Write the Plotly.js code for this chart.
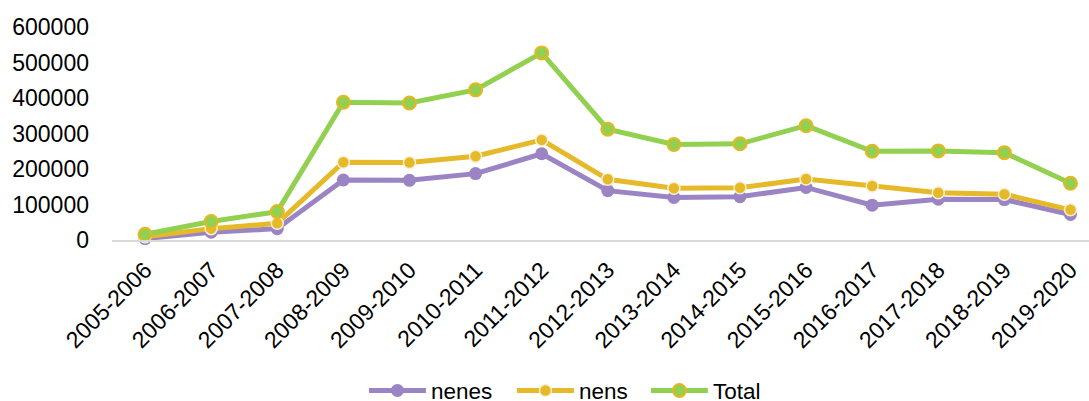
<!DOCTYPE html>
<html>
<head>
<meta charset="utf-8">
<script src="https://cdn.plot.ly/plotly-3.0.1.min.js"></script>
<style>
html,body{margin:0;padding:0;background:#fff;}
#chart{width:1089px;height:401px;}
</style>
</head>
<body>
<div id="chart"></div>
<script>
var categories = ['2005-2006','2006-2007','2007-2008','2008-2009','2009-2010','2010-2011','2011-2012','2012-2013','2013-2014','2014-2015','2015-2016','2016-2017','2017-2018','2018-2019','2019-2020'];
var nenes = [4000, 22000, 32000, 169000, 168000, 187000, 243000, 139000, 120000, 122000, 148000, 98000, 115000, 114000, 72000];
var nens = [9000, 32000, 47000, 219000, 218000, 236000, 282000, 171000, 146000, 147000, 172000, 152000, 133000, 129000, 85000];
var total = [16000, 52000, 80000, 388000, 386000, 423000, 527000, 312000, 269000, 271000, 322000, 250000, 251000, 246000, 160000];
var yTicks = [0, 100000, 200000, 300000, 400000, 500000, 600000];

var FONT = 'Liberation Sans, Arial, sans-serif';

var traces = [
  {
    name: 'nenes', x: categories, y: nenes, type: 'scatter', mode: 'lines+markers',
    line: {color: '#9B84C4', width: 5},
    marker: {color: '#9B84C4', size: 13, line: {color: '#9B84C4', width: 0}},
    cliponaxis: false, legend: 'legend'
  },
  {
    name: 'nens', x: categories, y: nens, type: 'scatter', mode: 'lines+markers',
    line: {color: '#E6B928', width: 5},
    marker: {color: '#E6B928', size: 12, line: {color: '#FCEFD6', width: 1.5}},
    cliponaxis: false, legend: 'legend2'
  },
  {
    name: 'Total', x: categories, y: total, type: 'scatter', mode: 'lines+markers',
    line: {color: '#92D050', width: 5},
    marker: {color: '#92D050', size: 13, line: {color: '#E8B623', width: 2}},
    cliponaxis: false, legend: 'legend3'
  }
];

function legendAt(xc) {
  return {
    orientation: 'h', xref: 'container', x: xc, xanchor: 'left', y: -0.708, yanchor: 'middle',
    font: {family: FONT, size: 22.5, color: '#000'},
    itemwidth: 57, tracegroupgap: 0, bgcolor: 'rgba(0,0,0,0)'
  };
}

var layout = {
  width: 1089, height: 401,
  margin: {l: 112, r: 0, t: 27, b: 161, pad: 0, autoexpand: false},
  paper_bgcolor: '#fff', plot_bgcolor: '#fff',
  font: {family: FONT, size: 23, color: '#000'},
  showlegend: true,
  legend: legendAt(0.3342),
  legend2: legendAt(0.4701),
  legend3: legendAt(0.5931),
  xaxis: {
    type: 'category', range: [-0.5, 14.28], automargin: false,
    tickangle: -45, tickfont: {family: FONT, size: 23, color: '#000'},
    showline: true, linecolor: '#D9D9D9', linewidth: 1.5,
    showgrid: false, zeroline: false, ticks: '', fixedrange: true,
    ticklabelstandoff: 6
  },
  yaxis: {
    range: [0, 600000], tickvals: yTicks, ticktext: yTicks.map(String), automargin: false,
    tickfont: {family: FONT, size: 23, color: '#000'},
    showgrid: false, zeroline: false, showline: false, ticks: '',
    ticklabelstandoff: 22, fixedrange: true
  }
};

Plotly.newPlot('chart', traces, layout, {displayModeBar: false, staticPlot: true});
</script>
</body>
</html>
